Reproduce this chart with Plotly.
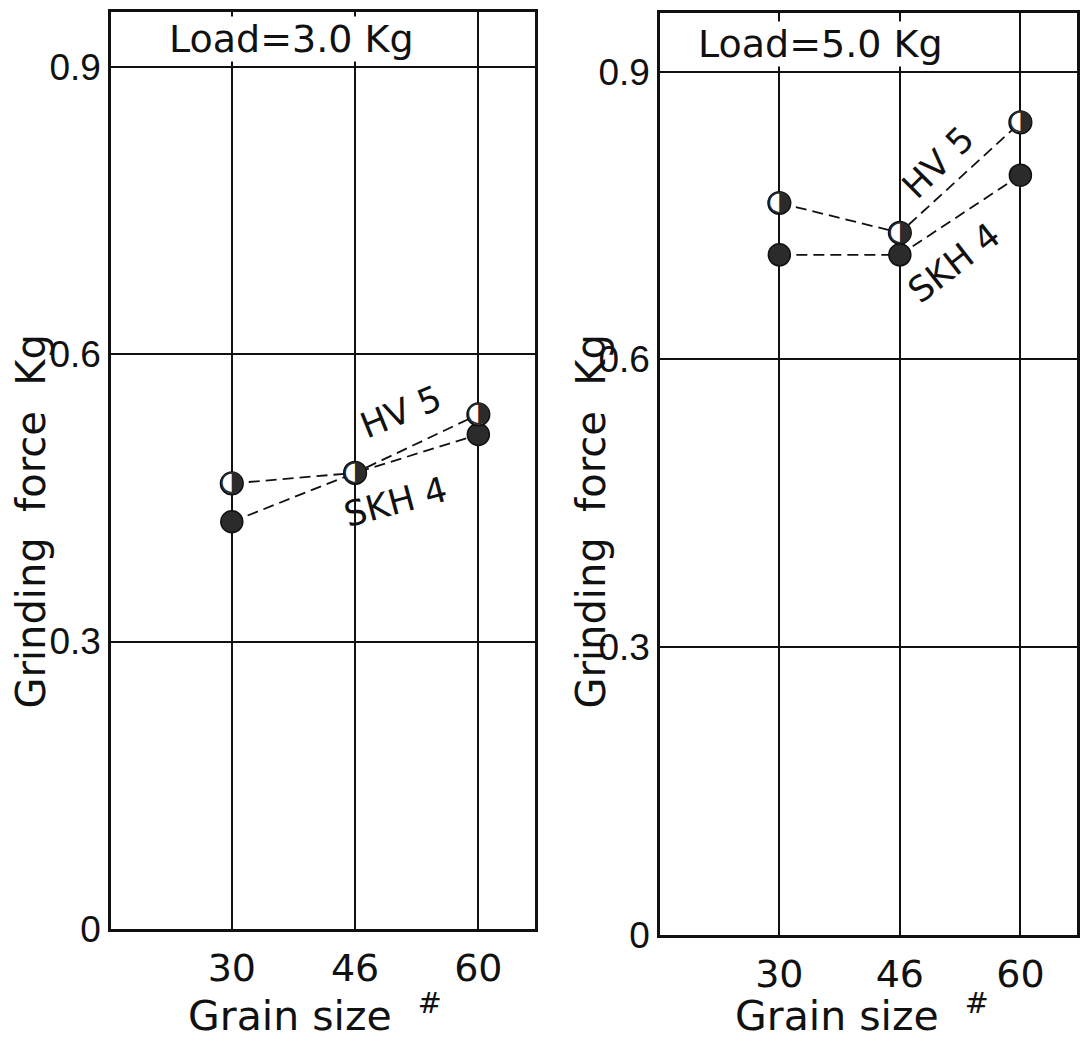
import plotly.graph_objects as go

# Grinding force vs. grain size for two tool steels, at two loads
grain_sizes = ["30", "46", "60"]

hv5_load3 = [0.465, 0.476, 0.537]
skh4_load3 = [0.425, 0.476, 0.516]

hv5_load5 = [0.763, 0.732, 0.847]
skh4_load5 = [0.709, 0.709, 0.792]

y_ticks = [0, 0.3, 0.6, 0.9]
y_tick_text = ["0", "0.3", "0.6", "0.9"]

TXT = "DejaVu Sans"
NUM = "Liberation Sans"
INK = "#111111"

fig = go.Figure()

panels = [
    ("x", "y", hv5_load3, skh4_load3),
    ("x2", "y2", hv5_load5, skh4_load5),
]

for xa, ya, hv5, skh4 in panels:
    # SKH 4: solid dark dots, dashed connector
    fig.add_trace(go.Scatter(
        x=grain_sizes, y=skh4, xaxis=xa, yaxis=ya, mode="lines+markers",
        line=dict(color=INK, width=1.8, dash="11px,6px"),
        marker=dict(symbol="circle", size=22, color="#2b2b2b",
                    line=dict(color=INK, width=1.5)),
        showlegend=False, hoverinfo="skip"))
    # HV 5: ring with the right half shaded, dashed connector
    fig.add_trace(go.Scatter(
        x=grain_sizes, y=hv5, xaxis=xa, yaxis=ya, mode="lines+markers",
        line=dict(color=INK, width=1.8, dash="11px,6px"),
        marker=dict(symbol="circle", size=22, color="white",
                    line=dict(color=INK, width=2.2)),
        showlegend=False, hoverinfo="skip"))
    fig.add_trace(go.Scatter(
        x=grain_sizes, y=hv5, xaxis=xa, yaxis=ya, mode="text",
        text=["\u25D1"] * len(hv5), textposition="middle center",
        textfont=dict(family="DejaVu Sans", size=28, color="#2b2b2b"),
        showlegend=False, hoverinfo="skip"))

axis_common = dict(
    showline=True, mirror=True, linecolor=INK, linewidth=2.6,
    showgrid=True, gridcolor=INK, gridwidth=1.6, zeroline=False,
    ticks="", fixedrange=True, automargin=False,
)

fig.update_layout(
    width=1082, height=1043,
    margin=dict(l=0, r=0, t=0, b=0, autoexpand=False),
    paper_bgcolor="white", plot_bgcolor="white",
    xaxis=dict(axis_common, domain=[0.1026, 0.4945], type="category",
               range=[-0.98, 2.46], anchor="y", ticklabelstandoff=4,
               tickfont=dict(family=TXT, size=38, color=INK)),
    yaxis=dict(axis_common, domain=[0.1093, 0.9885], range=[0, 0.957],
               tickvals=y_ticks, ticktext=y_tick_text, anchor="x",
               ticklabelstandoff=0,
               tickfont=dict(family=NUM, size=37, color=INK)),
    xaxis2=dict(axis_common, domain=[0.61, 0.9954], type="category",
                range=[-0.99, 2.47], anchor="y2", ticklabelstandoff=4,
                tickfont=dict(family=TXT, size=38, color=INK)),
    yaxis2=dict(axis_common, domain=[0.1035, 0.9875], range=[0, 0.961],
                tickvals=y_ticks, ticktext=y_tick_text, anchor="x2",
                ticklabelstandoff=0,
                tickfont=dict(family=NUM, size=37, color=INK)),
)

ann = []
# header cell titles
for xr, yr, txt, xpos in [("x domain", "y", "Load=3.0 Kg", 0.134),
                          ("x2 domain", "y2", "Load=5.0 Kg", 0.089)]:
    ann.append(dict(xref=xr, yref=yr, x=xpos, y=0.929, xanchor="left",
                    yanchor="middle", text=txt, showarrow=False,
                    bgcolor="white", borderpad=0,
                    font=dict(family=TXT, size=38, color=INK)))

# series labels
for xr, yr, x, y, txt, ang in [
        ("x", "y", 1.37, 0.540, "HV 5", -22),
        ("x", "y", 1.33, 0.446, "SKH 4", -15),
        ("x2", "y2", 1.32, 0.806, "HV 5", -45),
        ("x2", "y2", 1.45, 0.700, "SKH 4", -38)]:
    ann.append(dict(xref=xr, yref=yr, x=x, y=y, text=txt, textangle=ang,
                    showarrow=False,
                    font=dict(family=TXT, size=35, color=INK)))

# axis titles
for xc in [30, 590]:
    ann.append(dict(xref="paper", yref="paper", x=xc / 1082, y=0.50,
                    xanchor="center", yanchor="middle",
                    text="Grinding  force  Kg", textangle=-90,
                    showarrow=False,
                    font=dict(family=TXT, size=40, color=INK)))
for xc in [315, 862]:
    ann.append(dict(xref="paper", yref="paper", x=xc / 1082,
                    y=(1043 - 1013) / 1043, xanchor="center",
                    yanchor="middle",
                    text="Grain size  <sup>#</sup>", showarrow=False,
                    font=dict(family=TXT, size=41, color=INK)))

fig.update_layout(annotations=ann)

fig.write_html("out.html")
